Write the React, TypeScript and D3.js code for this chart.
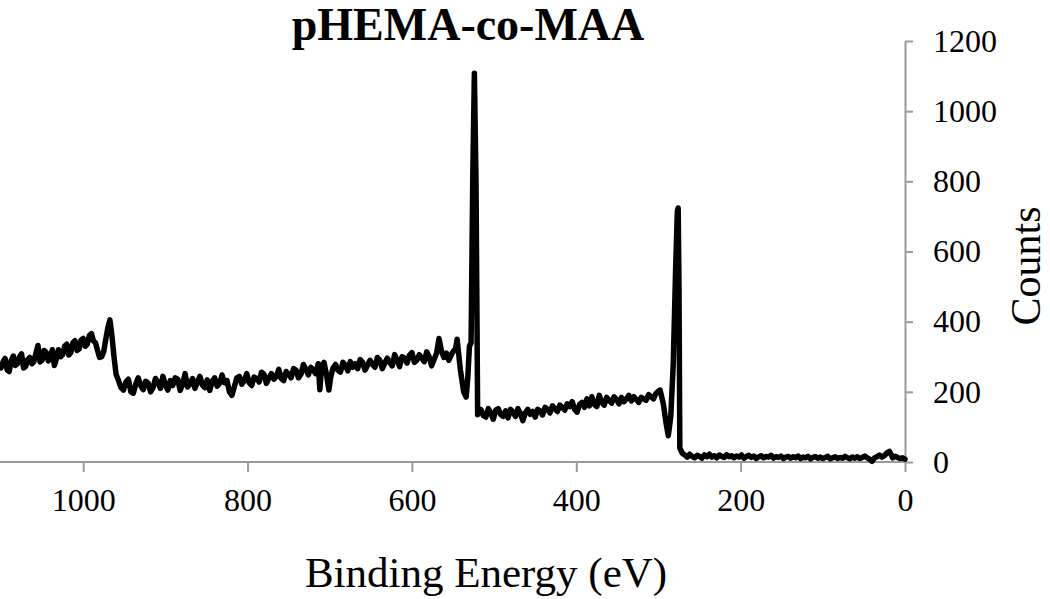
import React, { useEffect, useRef } from "react";
import * as d3 from "d3";

// survey spectrum as [binding energy (eV), counts]
const highEnergyRegion: [number, number][] = [
  [1100, 268], [1097.5, 285], [1095, 295], [1092.5, 262], [1090, 258], [1087.5, 290],
  [1085, 302], [1082.5, 275], [1080, 280], [1077.5, 300], [1075, 308], [1072.5, 268],
  [1070, 272], [1067.5, 292], [1065, 298], [1062.5, 280], [1060, 286], [1057.5, 310],
  [1055, 332], [1052.5, 285], [1050, 290], [1047.5, 318], [1045, 312], [1042.5, 288],
  [1040, 300], [1037.5, 320], [1035, 275], [1032.5, 295], [1030, 320], [1027.5, 300],
  [1025, 306], [1022.5, 330], [1020, 336], [1017.5, 305], [1015, 312], [1012.5, 340],
  [1010, 346], [1007.5, 318], [1005, 322], [1002.5, 348], [1000, 352], [997.5, 330],
  [995, 336], [992.5, 360], [990, 366], [987.5, 345], [985, 340], [982.5, 318],
  [980, 298], [977.5, 300], [975, 315], [972.5, 350], [970, 382], [967.5, 405],
  [965, 360], [962.5, 300], [960, 250],
];

const backgroundRegion: [number, number][] = [
  [957, 232], [954, 212], [951, 205], [948, 228], [945, 236], [942, 200], [939, 196],
  [936, 222], [933, 240], [930, 218], [927, 206], [924, 230], [921, 225], [918, 200],
  [915, 212], [912, 238], [909, 226], [906, 210], [903, 244], [900, 220], [897, 205],
  [894, 232], [891, 218], [888, 240], [885, 236], [882, 204], [879, 222], [876, 252],
  [873, 214], [870, 222], [867, 238], [864, 210], [861, 228], [858, 244], [855, 220],
  [852, 212], [849, 234], [846, 204], [843, 230], [840, 240], [837, 216], [834, 224],
  [831, 248], [828, 226], [825, 232], [822, 200], [819, 190], [816, 215], [813, 240],
  [810, 244], [807, 222], [804, 232], [801, 252], [798, 226], [795, 218], [792, 242],
  [789, 238], [786, 228], [783, 256], [780, 250], [777, 224], [774, 240], [771, 252],
  [768, 236], [765, 244], [762, 264], [759, 238], [756, 232], [753, 258], [750, 250],
  [747, 240], [744, 266], [741, 262], [738, 240], [735, 250], [732, 278], [729, 264],
  [726, 248], [723, 270], [720, 262], [717, 252], [714, 280], [712, 206], [710, 270],
  [707, 284], [704, 250], [701, 205], [699, 240], [696, 268], [693, 278], [690, 262],
  [687, 256], [684, 284], [681, 276], [678, 260], [675, 286], [672, 270], [669, 280],
  [666, 266], [663, 292], [660, 284], [657, 262], [654, 276], [651, 290], [648, 278],
  [645, 270], [642, 298], [639, 290], [636, 266], [633, 282], [630, 296], [627, 284],
  [624, 274], [621, 306], [618, 290], [615, 272], [612, 300], [609, 296], [606, 282],
  [603, 304], [600, 312], [597, 284], [594, 290], [591, 306], [588, 296], [585, 286],
  [582, 314], [579, 300], [576, 274], [573, 292], [570, 310], [567, 352], [564, 316],
  [561, 298], [558, 310], [555, 290], [552, 306], [549, 318],
];

const oxygenPeak: [number, number][] = [
  [547, 320], [545, 350], [541, 262], [537, 200], [534, 185], [532, 240],
  [530, 330], [528, 340], [526, 800], [524, 1108], [522, 800], [520, 135],
  [518, 150],
];

const midRegion: [number, number][] = [
  [516, 150], [513, 132], [510, 128], [507, 152], [504, 140], [501, 122], [498, 148],
  [495, 152], [492, 136], [489, 130], [486, 146], [483, 126], [480, 150], [477, 142],
  [474, 130], [471, 152], [468, 138], [465, 118], [462, 140], [459, 150], [456, 136],
  [453, 144], [450, 128], [447, 150], [444, 146], [441, 134], [438, 156], [435, 150],
  [432, 140], [429, 160], [426, 152], [423, 144], [420, 162], [417, 156], [414, 148],
  [411, 166], [408, 158], [405, 172], [402, 150], [399, 142], [396, 164], [393, 170],
  [390, 156], [387, 180], [384, 160], [381, 186], [378, 164], [375, 158], [372, 190],
  [369, 170], [366, 162], [363, 184], [360, 176], [357, 168], [354, 186], [351, 178],
  [348, 166], [345, 184], [342, 172], [339, 180], [336, 190], [333, 174], [330, 186],
  [327, 178], [324, 170], [321, 184], [318, 180], [315, 176], [312, 192], [309, 186],
  [306, 180], [303, 196], [300, 202], [298, 205],
];

const carbonPeak: [number, number][] = [
  [294, 165], [291, 115], [288, 75], [285, 130], [282, 280], [279, 560],
  [277, 715], [276, 724], [275, 500], [274, 40], [271, 25],
];

const lowEnergyRegion: [number, number][] = [
  [268, 20], [265, 14], [262, 22], [259, 16], [256, 12], [253, 19], [250, 16],
  [247, 11], [244, 20], [241, 15], [238, 22], [235, 14], [232, 18], [229, 12],
  [226, 20], [223, 16], [220, 13], [217, 21], [214, 15], [211, 18], [208, 12],
  [205, 17], [202, 14], [199, 20], [196, 11], [193, 16], [190, 19], [187, 13],
  [184, 17], [181, 10], [178, 15], [175, 18], [172, 12], [169, 16], [166, 14],
  [163, 19], [160, 11], [157, 15], [154, 13], [151, 17], [148, 10], [145, 14],
  [142, 16], [139, 11], [136, 15], [133, 12], [130, 17], [127, 10], [124, 14],
  [121, 12], [118, 16], [115, 9], [112, 13], [109, 15], [106, 11], [103, 14],
  [100, 10], [97, 13], [94, 16], [91, 9], [88, 12], [85, 15], [82, 10], [79, 13],
  [76, 11], [73, 16], [70, 12], [67, 9], [64, 14], [61, 11], [58, 15], [55, 10],
  [52, 13], [49, 17], [46, 12], [43, 8], [40, 2], [37, 12], [34, 15], [31, 20],
  [28, 14], [25, 18], [22, 26], [19, 30], [17, 22], [15, 12], [12, 16], [9, 13],
  [6, 10], [3, 12], [0, 8],
];

const xTicks = [1000, 800, 600, 400, 200, 0];
const yTicks = [0, 200, 400, 600, 800, 1000, 1200];

const width = 1050;
const height = 599;
const serif = "'Liberation Serif', 'Times New Roman', serif";

export default function App() {
  const ref = useRef<SVGSVGElement>(null);

  useEffect(() => {
    const svg = d3.select(ref.current);
    svg.selectAll("*").remove();

    const data = [
      ...highEnergyRegion,
      ...backgroundRegion,
      ...oxygenPeak,
      ...midRegion,
      ...carbonPeak,
      ...lowEnergyRegion,
    ];

    const x = d3.scaleLinear().domain([1100, 0]).range([1, 905]);
    const y = d3.scaleLinear().domain([0, 1200]).range([462, 41]);
    const fmt = d3.format("d");

    // x axis
    const xAxis = svg.append("g")
      .attr("transform", "translate(0,462)")
      .call(d3.axisBottom(x).tickValues(xTicks).tickFormat(fmt)
        .tickSize(10).tickSizeOuter(0).tickPadding(16));
    xAxis.select(".domain").attr("d", "M0,0H905");

    // y axis on the right
    const yAxis = svg.append("g")
      .attr("transform", "translate(905,0)")
      .call(d3.axisRight(y).tickValues(yTicks).tickFormat(fmt)
        .tickSize(8).tickSizeOuter(0).tickPadding(20));

    [xAxis, yAxis].forEach(function (g) {
      g.attr("font-family", serif).attr("font-size", 32);
      g.selectAll("path, line").attr("stroke", "#9a9a9a").attr("stroke-width", 2);
      g.selectAll("text").attr("fill", "#000");
    });

    const line = d3.line<[number, number]>()
      .x(function (d) { return x(d[0]); })
      .y(function (d) { return y(d[1]); });

    svg.append("path")
      .attr("d", line(data))
      .attr("fill", "none")
      .attr("stroke", "#000")
      .attr("stroke-width", 5.5)
      .attr("stroke-linejoin", "round")
      .attr("stroke-linecap", "round");

    svg.append("text")
      .attr("x", 468)
      .attr("y", 40)
      .attr("text-anchor", "middle")
      .style("font-family", serif)
      .style("font-weight", "bold")
      .style("font-size", "46px")
      .text("pHEMA-co-MAA");

    svg.append("text")
      .attr("x", 486)
      .attr("y", 587)
      .attr("text-anchor", "middle")
      .style("font-family", serif)
      .style("font-size", "43px")
      .text("Binding Energy (eV)");

    svg.append("text")
      .attr("transform", "translate(1040,266) rotate(-90)")
      .attr("text-anchor", "middle")
      .style("font-family", serif)
      .style("font-size", "42px")
      .text("Counts");
  }, []);

  return (
    <svg
      ref={ref}
      width={width}
      height={height}
      style={{ position: "absolute", left: 0, top: 0, background: "#fff" }}
    />
  );
}
